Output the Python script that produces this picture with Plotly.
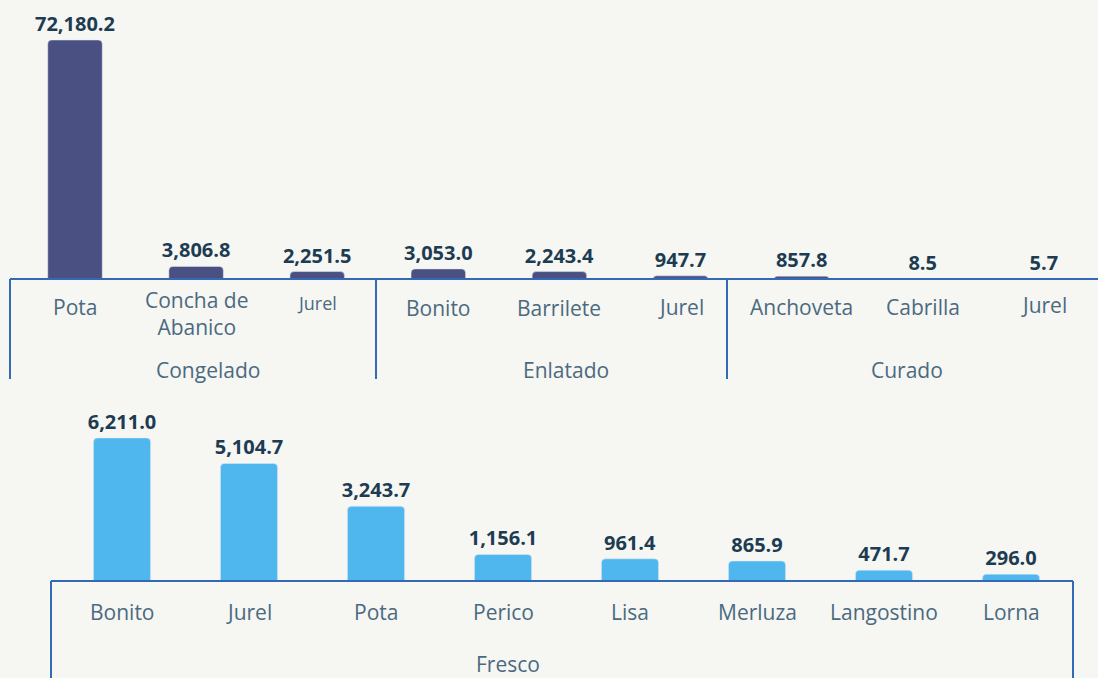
import plotly.graph_objects as go

# top panel: processed products
top_groups = ["Congelado", "Enlatado", "Curado"]
top_species = ["Pota", "Concha de<br>Abanico", "Jurel",
               "Bonito", "Barrilete", "Jurel",
               "Anchoveta", "Cabrilla", "Jurel"]
top_values = [72180.2, 3806.8, 2251.5, 3053.0, 2243.4, 947.7, 857.8, 8.5, 5.7]

# bottom panel: fresh products
fresh_group = "Fresco"
fresh_species = ["Bonito", "Jurel", "Pota", "Perico", "Lisa", "Merluza", "Langostino", "Lorna"]
fresh_values = [6211.0, 5104.7, 3243.7, 1156.1, 961.4, 865.9, 471.7, 296.0]

W, H = 1098, 678
BG = "#f6f6f2"
LINE = "#3569b8"
VAL_COL = "#1d3c52"
LAB_COL = "#4b6a80"
FONT = "Open Sans"


def px(x):
    return x / W


def py(y):
    return 1 - y / H


fig = go.Figure()

fig.add_trace(go.Bar(
    x=list(range(len(top_values))), y=top_values, width=0.45,
    marker=dict(color="#4a5082", cornerradius=4),
    texttemplate="<b>%{y:,.1f}</b>", textposition="outside", constraintext="none",
    textfont=dict(family=FONT, size=20, color=VAL_COL),
    cliponaxis=False, xaxis="x", yaxis="y", hoverinfo="skip",
))
fig.add_trace(go.Bar(
    x=list(range(len(fresh_values))), y=fresh_values, width=0.45,
    marker=dict(color="#4fb6ee", cornerradius=4),
    texttemplate="<b>%{y:,.1f}</b>", textposition="outside", constraintext="none",
    textfont=dict(family=FONT, size=20, color=VAL_COL),
    cliponaxis=False, xaxis="x2", yaxis="y2", hoverinfo="skip",
))

hidden = dict(showgrid=False, zeroline=False, showticklabels=False, showline=False, ticks="")
fig.update_layout(
    width=W, height=H, showlegend=False,
    paper_bgcolor=BG, plot_bgcolor=BG,
    margin=dict(l=0, r=0, t=0, b=0),
    font=dict(family=FONT),
    xaxis=dict(domain=[px(10), 1], range=[(10 - 75) / 121.1, (1098 - 75) / 121.1], **hidden),
    yaxis=dict(domain=[py(279), 1], range=[0, 84262], **hidden),
    xaxis2=dict(domain=[px(51), px(1073)], range=[(51 - 122) / 127, (1073 - 122) / 127],
                anchor="y2", **hidden),
    yaxis2=dict(domain=[py(581), py(400)], range=[0, 7861], anchor="x2", **hidden),
)

# axis lines and group dividers
shapes = [
    dict(type="line", xref="paper", yref="paper", x0=px(10), x1=1, y0=py(279), y1=py(279)),
    dict(type="line", xref="paper", yref="paper", x0=px(10), x1=px(10), y0=py(279), y1=py(379)),
    dict(type="line", xref="paper", yref="paper", x0=px(376), x1=px(376), y0=py(279), y1=py(379)),
    dict(type="line", xref="paper", yref="paper", x0=px(727), x1=px(727), y0=py(279), y1=py(379)),
    dict(type="line", xref="paper", yref="paper", x0=px(51), x1=px(1073), y0=py(581), y1=py(581)),
    dict(type="line", xref="paper", yref="paper", x0=px(51), x1=px(51), y0=py(581), y1=0),
    dict(type="line", xref="paper", yref="paper", x0=px(1073), x1=px(1073), y0=py(581), y1=0),
]
for s in shapes:
    s["line"] = dict(color=LINE, width=2)
fig.update_layout(shapes=shapes)

# category labels
top_label_y = [307, 313, 303, 308, 308, 307, 307, 307, 305]
top_label_size = [21, 21, 18, 21, 21, 21, 21, 21, 21]
for i, name in enumerate(top_species):
    fig.add_annotation(x=i, y=py(top_label_y[i]), xref="x", yref="paper", text=name,
                       showarrow=False, xanchor="center", yanchor="middle",
                       font=dict(family=FONT, size=top_label_size[i], color=LAB_COL))
for i, name in enumerate(fresh_species):
    fig.add_annotation(x=i, y=py(612), xref="x2", yref="paper", text=name,
                       showarrow=False, xanchor="center", yanchor="middle",
                       font=dict(family=FONT, size=21, color=LAB_COL))

# group labels (centred under each bracket)
for g, gx in zip(top_groups, [208, 566, 907]):
    fig.add_annotation(x=px(gx), y=py(370), xref="paper", yref="paper", text=g,
                       showarrow=False, xanchor="center", yanchor="middle",
                       font=dict(family=FONT, size=21, color=LAB_COL))
fig.add_annotation(x=px(508), y=py(664), xref="paper", yref="paper", text=fresh_group,
                   showarrow=False, xanchor="center", yanchor="middle",
                   font=dict(family=FONT, size=21, color=LAB_COL))

# drop the default page margin so the figure fills the window
fig.write_html("out.html", config={"displayModeBar": False},
               post_script="document.body.style.margin = '0';")
